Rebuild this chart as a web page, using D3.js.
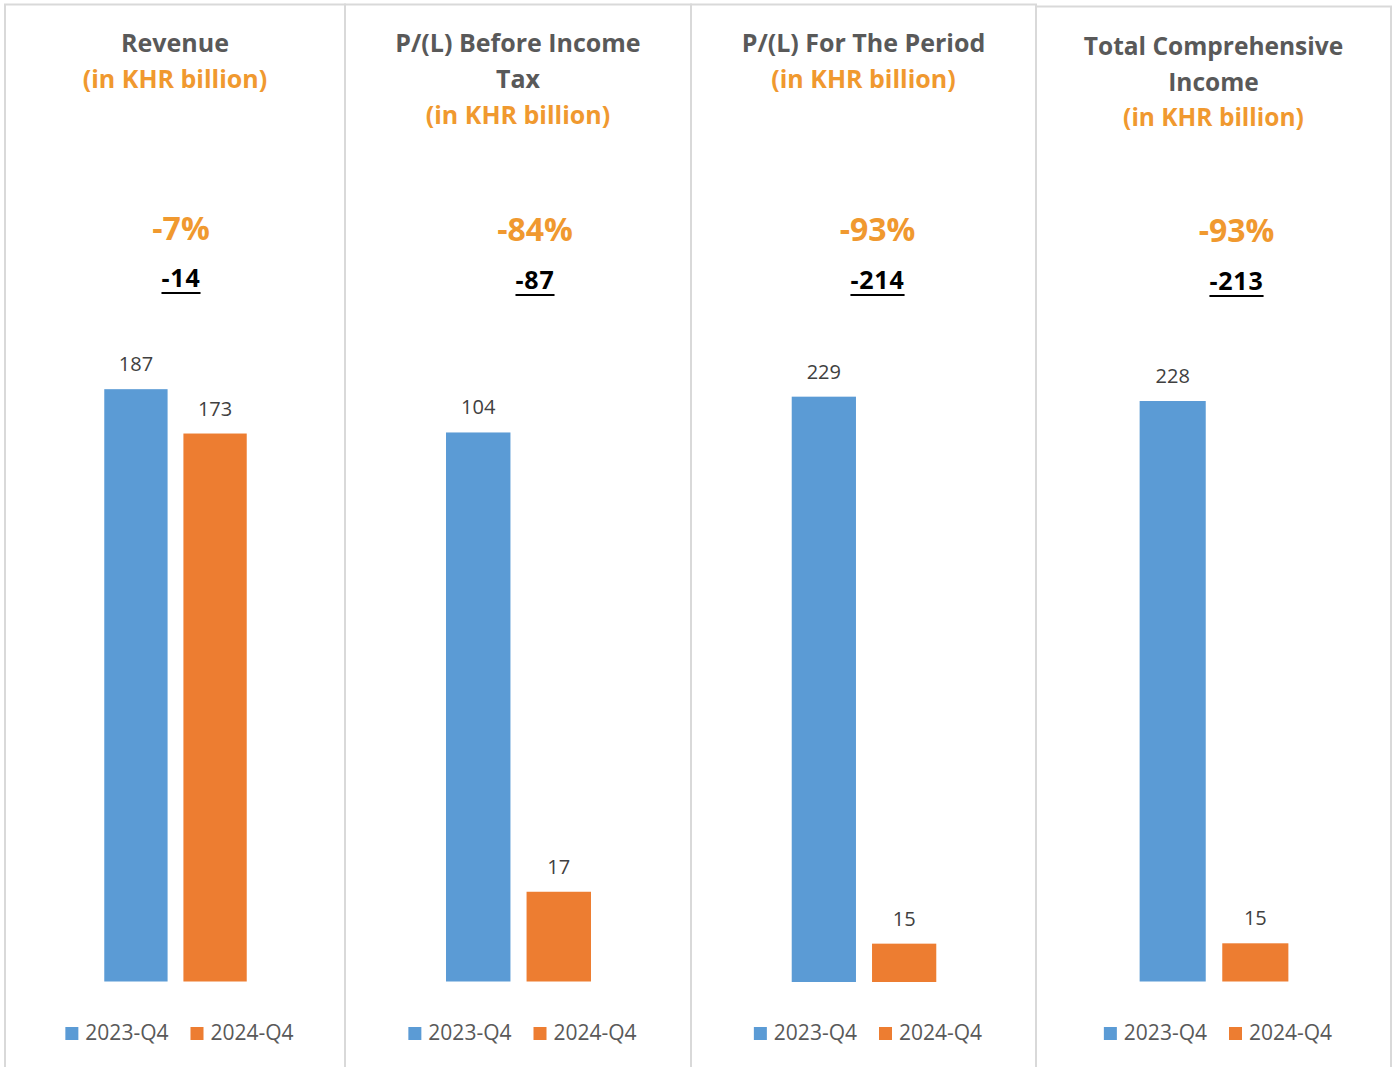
<!DOCTYPE html>
<html>
<head>
<meta charset="utf-8">
<script src="https://cdn.jsdelivr.net/npm/d3@7"></script>
<style>
  html, body { margin: 0; padding: 0; background: #ffffff; }
  svg { display: block; }
  text { font-family: "Open Sans", "Noto Sans", sans-serif; }
</style>
</head>
<body>
<svg id="chart" width="1398" height="1067"></svg>
<script>
// ---- data ----
const panelTitles = [
  ["Revenue"],
  ["P/(L) Before Income", "Tax"],
  ["P/(L) For The Period"],
  ["Total Comprehensive", "Income"]
];
const unitLabel = "(in KHR billion)";
const seriesNames = ["2023-Q4", "2024-Q4"];
const values2023 = [187, 104, 229, 228];
const values2024 = [173, 17, 15, 15];
const axisMax = [200, 120, 250, 250];

// ---- layout ----
const panelEdges = [5, 345, 691, 1036, 1391];
const panelTops = [4.5, 4.5, 4.5, 6.5];
const plotTops = [348, 348, 343, 345];
const plotBottoms = [981.5, 981.5, 982, 981.5];
const titleBaseline = [52, 52, 52, 55];
const titleLineGap = [36, 36, 36, 35.5];
const titleWidthScale = [1, 1, 1, 0.98];
const changeShift = [6, 17, 14, 23];
const pctBaseline = [240, 241, 241, 242];
const diffBaseline = [287, 289, 289, 290];
const legendBaseline = 1040;

const colors = ["#5B9BD5", "#ED7D31"];
const titleGray = "#595959";
const accent = "#F0992F";

const svg = d3.select("#chart");

panelTitles.forEach((title, i) => {
  const left = panelEdges[i], right = panelEdges[i + 1];
  const cx = (left + right) / 2;
  const w = right - left;
  const g = svg.append("g");

  // panel frame
  g.append("rect")
    .attr("x", left).attr("y", panelTops[i])
    .attr("width", w).attr("height", 1100)
    .attr("fill", "none").attr("stroke", "#D9D9D9").attr("stroke-width", 2);

  // heading lines
  const lines = title.map(t => ({ t, c: titleGray })).concat([{ t: unitLabel, c: accent }]);
  lines.forEach((ln, k) => {
    const t = g.append("text")
      .attr("x", cx).attr("y", titleBaseline[i] + k * titleLineGap[i])
      .attr("text-anchor", "middle")
      .attr("font-size", 25).attr("font-weight", 700)
      .attr("fill", ln.c).text(ln.t);
    if (titleWidthScale[i] !== 1) {
      const len = t.node().getComputedTextLength();
      t.attr("textLength", len * titleWidthScale[i]).attr("lengthAdjust", "spacingAndGlyphs");
    }
  });

  // change figures
  const a = values2023[i], b = values2024[i];
  const diff = b - a;
  const pct = Math.round(diff / a * 100);
  const tx = cx + changeShift[i];
  g.append("text")
    .attr("x", tx).attr("y", pctBaseline[i])
    .attr("text-anchor", "middle")
    .attr("font-size", 32).attr("font-weight", 700)
    .attr("fill", accent).text(pct + "%");
  const dt = g.append("text")
    .attr("x", tx).attr("y", diffBaseline[i])
    .attr("text-anchor", "middle")
    .attr("font-size", 25).attr("font-weight", 700)
    .attr("letter-spacing", 0.8)
    .attr("fill", "#000000").text(String(diff));
  const dl = dt.node().getComputedTextLength();
  g.append("line")
    .attr("x1", tx - dl / 2).attr("x2", tx + dl / 2)
    .attr("y1", diffBaseline[i] + 6).attr("y2", diffBaseline[i] + 6)
    .attr("stroke", "#000000").attr("stroke-width", 2.2);

  // bars
  const groupW = w * 0.419;
  const x = d3.scaleBand()
    .domain(seriesNames)
    .range([cx + 0.5 - groupW / 2, cx + 0.5 + groupW / 2])
    .paddingInner(0.2).paddingOuter(0);
  const y = d3.scaleLinear()
    .domain([0, axisMax[i]])
    .range([plotBottoms[i], plotTops[i]]);

  const rows = [
    { s: seriesNames[0], v: a, c: colors[0] },
    { s: seriesNames[1], v: b, c: colors[1] }
  ];
  g.selectAll("rect.bar").data(rows).join("rect")
    .attr("class", "bar")
    .attr("x", d => x(d.s)).attr("width", x.bandwidth())
    .attr("y", d => y(d.v)).attr("height", d => y(0) - y(d.v))
    .attr("fill", d => d.c);
  g.selectAll("text.val").data(rows).join("text")
    .attr("class", "val")
    .attr("x", d => x(d.s) + x.bandwidth() / 2)
    .attr("y", d => y(d.v) - 18)
    .attr("text-anchor", "middle")
    .attr("font-size", 20).attr("fill", "#404040")
    .text(d => d.v);

  // legend
  const lg = g.append("g");
  let pos = 0;
  seriesNames.forEach((s, k) => {
    lg.append("rect")
      .attr("x", pos).attr("y", legendBaseline - 13)
      .attr("width", 13).attr("height", 13)
      .attr("fill", colors[k]);
    pos += 20;
    const t = lg.append("text")
      .attr("x", pos).attr("y", legendBaseline)
      .attr("font-size", 21).attr("fill", titleGray).text(s);
    pos += t.node().getComputedTextLength();
    if (k < seriesNames.length - 1) pos += 22;
  });
  lg.attr("transform", `translate(${cx + 4.5 - pos / 2},0)`);
});
</script>
</body>
</html>
